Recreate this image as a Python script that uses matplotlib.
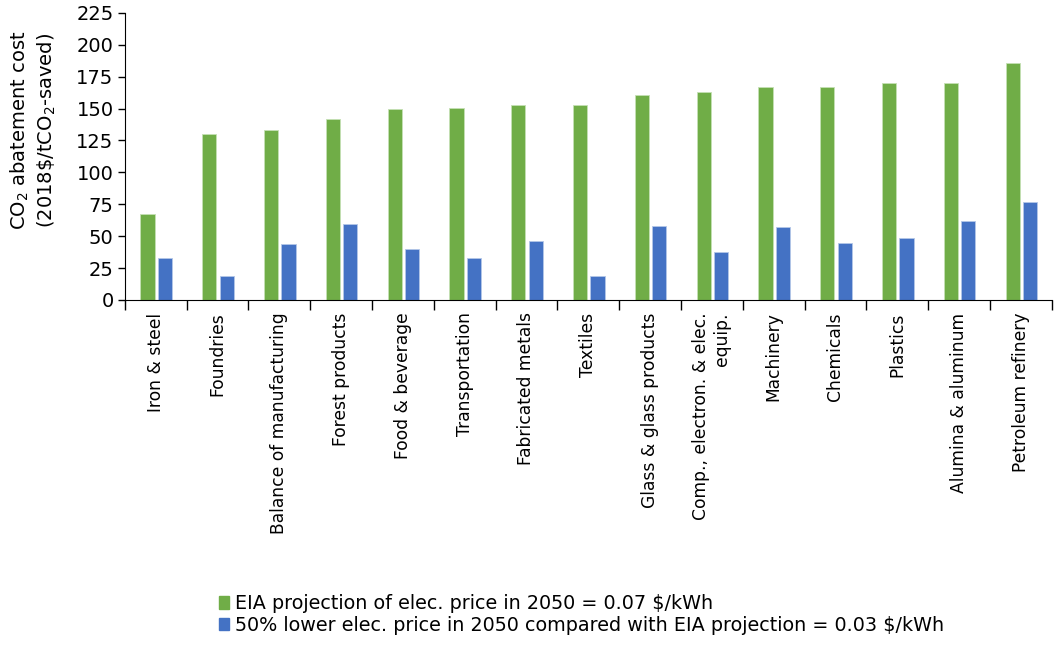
import numpy as np
import matplotlib
matplotlib.use("Agg")
import matplotlib.pyplot as plt
from matplotlib.patches import Patch

plt.rcParams['font.family'] = ['DejaVu Sans']

# sectores y costes de abatimiento
sectores = ['Iron & steel', 'Foundries', 'Balance of manufacturing', 'Forest products',
            'Food & beverage', 'Transportation', 'Fabricated metals', 'Textiles',
            'Glass & glass products', 'Comp., electron. & elec.\nequip.', 'Machinery',
            'Chemicals', 'Plastics', 'Alumina & aluminum', 'Petroleum refinery']
coste_eia = [67, 130, 133, 142, 149.5, 150.5, 153, 153, 160.5, 163, 166.7, 166.7, 170.4, 170.4, 185.5]
coste_bajo = [32.5, 19, 43.5, 59.6, 40, 32.5, 46, 19, 58, 37.5, 57, 45, 48.5, 62, 77]

etiquetas_leyenda = ['EIA projection of elec. price in 2050 = 0.07 $/kWh',
                     '50% lower elec. price in 2050 compared with EIA projection = 0.03 $/kWh']

verde = '#70AD47'
azul = '#4472C4'

fig = plt.figure(figsize=(10.57, 6.45), dpi=100)
ax = fig.add_axes([0.118, 0.535, 0.877, 0.445])

x = np.arange(len(sectores))
ancho = 0.23
ax.bar(x - 0.13, coste_eia, width=ancho, color=verde, edgecolor='#c5e0b4', linewidth=0.6)
ax.bar(x + 0.15, coste_bajo, width=ancho, color=azul, edgecolor='#b4c7e7', linewidth=0.6)

ax.set_xlim(-0.5, len(sectores) - 0.5)
ax.set_ylim(0, 225)
ax.set_yticks(np.arange(0, 226, 25))
ax.tick_params(axis='y', labelsize=14, direction='out', length=5, width=1, pad=3)

# marcas entre categorias, etiquetas en el centro
ax.set_xticks(x)
ax.set_xticklabels(sectores, rotation=90, fontsize=12.3, va='top', ha='center',
                   multialignment='right')
ax.tick_params(axis='x', which='major', length=0, pad=9)
ax.set_xticks(np.arange(-0.5, len(sectores), 1), minor=True)
ax.tick_params(axis='x', which='minor', length=7, width=1, direction='out')

ax.spines['top'].set_visible(False)
ax.spines['right'].set_visible(False)

ax.set_ylabel('CO$_2$ abatement cost\n(2018\\$/tCO$_2$-saved)', fontsize=14,
              linespacing=1.25)
ax.yaxis.set_label_coords(-0.072, 0.59)

handles = [Patch(color=verde), Patch(color=azul)]
fig.legend(handles, [e.replace('$', '\\$') for e in etiquetas_leyenda],
           loc='upper left', bbox_to_anchor=(0.198, 0.094), frameon=False,
           fontsize=13.8, handlelength=0.55, handleheight=0.65, handletextpad=0.3,
           labelspacing=0.15, borderpad=0)

fig.savefig('out.png', dpi=100)
